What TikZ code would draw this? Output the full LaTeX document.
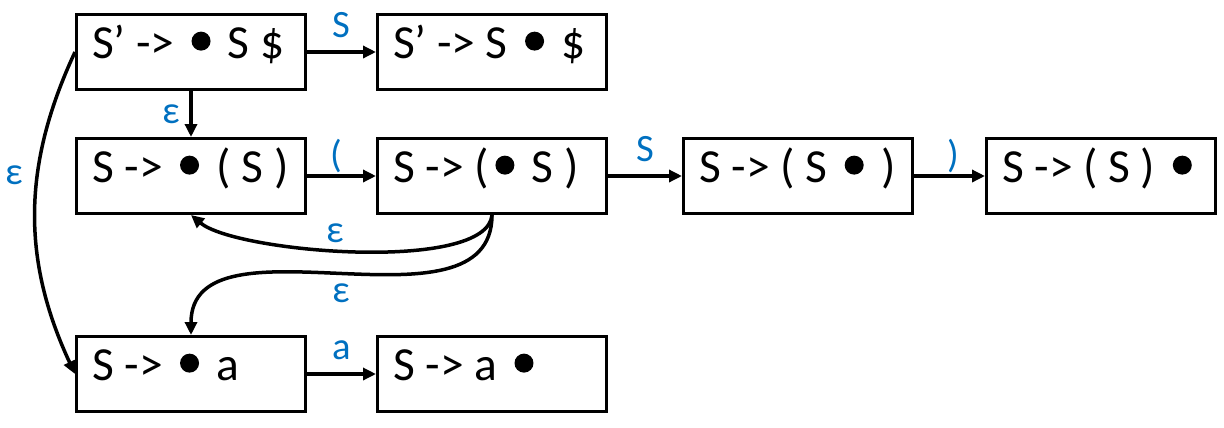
\documentclass[tikz,border=0pt]{standalone}
\usepackage{fontspec}
\setmainfont{Carlito}
\usetikzlibrary{arrows.meta,positioning}
\definecolor{lblblue}{RGB}{0,112,192}
\newcommand{\itemdot}{\tikz[baseline=0pt]{\path (-.34em,0) rectangle (.34em,.57em);\fill (0,.37em) circle (.2em);}}
\tikzset{
 itembox/.style={draw,line width=.06cm,minimum width=4.58cm,minimum height=1.5cm,
  inner xsep=.31cm,inner ysep=0pt,text height=.95em,text depth=.19em,
  font=\fontsize{27}{32}\selectfont,
  execute at begin node={\hbox to 3.96cm\bgroup},execute at end node={\hfil\egroup}},
 trans/.style={->,line width=.07cm},
 lbl/.style={text=lblblue,font=\fontsize{22}{26}\selectfont,inner sep=0pt,text depth=0pt}
}

\begin{document}
\begin{tikzpicture}[x=1cm,y=1cm,>={Triangle[length=.26cm,width=.24cm]}]
\useasboundingbox (0,0) rectangle (24.48,-8.54);
\node[itembox] (sstart) at (3.82,-1.04) {S’ -> \itemdot\ S \$};
\node[itembox,right=1.38cm of sstart] (sshift) {S’ -> S \itemdot\ \$};
\node[itembox,below=.92cm of sstart] (popen) {S -> \itemdot\ ( S )};
\node[itembox,right=1.38cm of popen] (pinner) {S -> (\itemdot\ S )};
\node[itembox,right=1.48cm of pinner] (pclose) {S -> ( S \itemdot\ )};
\node[itembox,right=1.42cm of pclose] (pdone) {S -> ( S ) \itemdot};
\node[itembox,below=2.4cm of popen] (aitem) {S -> \itemdot\ a};
\node[itembox,right=1.38cm of aitem] (adone) {S -> a \itemdot};

\draw[trans] (sstart) -- node[lbl,above=7pt]{S} (sshift);
\draw[trans] (sstart) -- node[lbl,left=5pt]{ε} (popen);
\draw[trans] (popen) -- node[lbl,above=4pt,pos=.42]{(} (pinner);
\draw[trans] (pinner) -- node[lbl,above=7pt]{S} (pclose);
\draw[trans] (pclose) -- node[lbl,above=4pt,pos=.56]{)} (pdone);
\draw[trans] (aitem) -- node[lbl,above=7pt]{a} (adone);
\draw[trans] (sstart.west) to[out=245,in=115] node[lbl,left=7pt,pos=.38]{ε} (aitem.west);
\draw[trans] (pinner.south) to[out=265,in=-40,looseness=.5] node[lbl,above=3pt,pos=.55]{ε} (popen.south);
\draw[trans] (pinner.south) to[out=270,in=90] node[lbl,below=4pt]{ε} (aitem.north);
\end{tikzpicture}
\end{document}
